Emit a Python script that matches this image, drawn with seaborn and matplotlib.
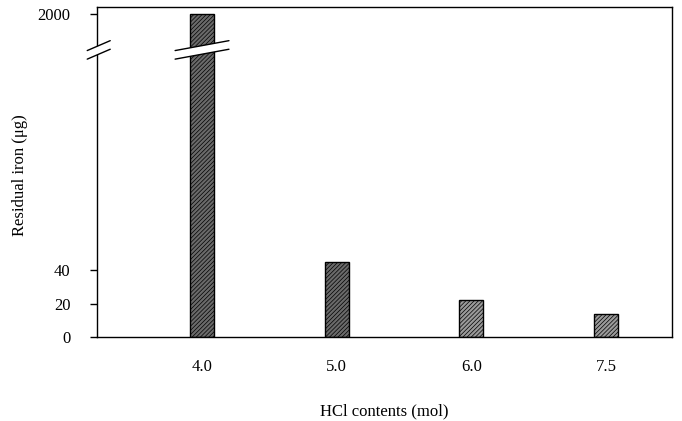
import numpy as np
import pandas as pd
import matplotlib
matplotlib.use("Agg")
import matplotlib.pyplot as plt
import matplotlib.transforms as mtransforms
from matplotlib.patches import Polygon
import seaborn as sns

# ---- data ----
categories = ["4.0", "5.0", "6.0", "7.5"]
residual_iron = [2000, 45, 22, 14]
y_ticks = [0, 20, 40, 2000]
y_tick_labels = ["0", "20", "40", "2000"]
x_label = "HCl contents (mol)"
y_label = "Residual iron (\u03bcg)"

bar_colors = ["#6a6a6a", "#6a6a6a", "#9a9a9a", "#9a9a9a"]

sns.set_theme(style="white")
plt.rcParams["font.family"] = ["Liberation Serif", "DejaVu Serif"]
plt.rcParams["hatch.linewidth"] = 0.5

fig = plt.figure(figsize=(6.82, 4.21), dpi=100)
ax = fig.add_axes([97 / 682, 1 - 337 / 421, (672 - 97) / 682, (337 - 7) / 421])

df = pd.DataFrame({"HCl": categories, "iron": residual_iron})
sns.barplot(data=df, x="HCl", y="iron", ax=ax, width=0.18,
            color="#777777", edgecolor="black", linewidth=1.0)

for patch, c in zip(ax.patches, bar_colors):
    patch.set_facecolor(c)
    patch.set_hatch("////////")
    patch.set_edgecolor("black")

# broken y scale
B = 172.0
k = 22.0 / 1828.0


def fwd(y):
    y = np.asarray(y, dtype=float)
    return np.where(y <= B, y, B + (y - B) * k)


def inv(z):
    z = np.asarray(z, dtype=float)
    return np.where(z <= B, z, B + (z - B) / k)


ax.set_yscale("function", functions=(fwd, inv))
ax.set_ylim(0, 2340)
ax.set_xlim(-0.78, 3.49)

ax.set_yticks(y_ticks)
ax.set_yticklabels(y_tick_labels, fontsize=12)
ax.tick_params(axis="y", which="major", left=True, length=5, width=1,
               color="black", pad=14, labelcolor="black")
ax.tick_params(axis="x", length=0, pad=16, labelsize=12, labelcolor="black")
ax.minorticks_off()

ax.set_xlabel(x_label, fontsize=12, labelpad=20, color="black")
ax.set_ylabel(y_label, fontsize=12, color="black")
ax.yaxis.set_label_coords(-0.12, 0.49)

for s in ax.spines.values():
    s.set_visible(True)
    s.set_color("black")
    s.set_linewidth(1.0)

# axis break marks (layout positions in axes fraction)
yb = 0.87
half_gap = 0.013
rise = 0.015


def draw_break(xc, half_w, trans):
    poly = Polygon([[xc - half_w, yb - half_gap - rise], [xc + half_w, yb - half_gap + rise],
                    [xc + half_w, yb + half_gap + rise], [xc - half_w, yb + half_gap - rise]],
                   closed=True, facecolor="white", edgecolor="none", transform=trans,
                   clip_on=False, zorder=5)
    ax.add_patch(poly)
    for sgn in (-1, 1):
        ax.plot([xc - half_w, xc + half_w],
                [yb + sgn * half_gap - rise, yb + sgn * half_gap + rise],
                color="black", lw=1.0, transform=trans, clip_on=False, zorder=6)


trans_bar = mtransforms.blended_transform_factory(ax.transData, ax.transAxes)
draw_break(0, 0.20, trans_bar)
draw_break(0.003, 0.02, ax.transAxes)

fig.savefig("out.png", dpi=100)
